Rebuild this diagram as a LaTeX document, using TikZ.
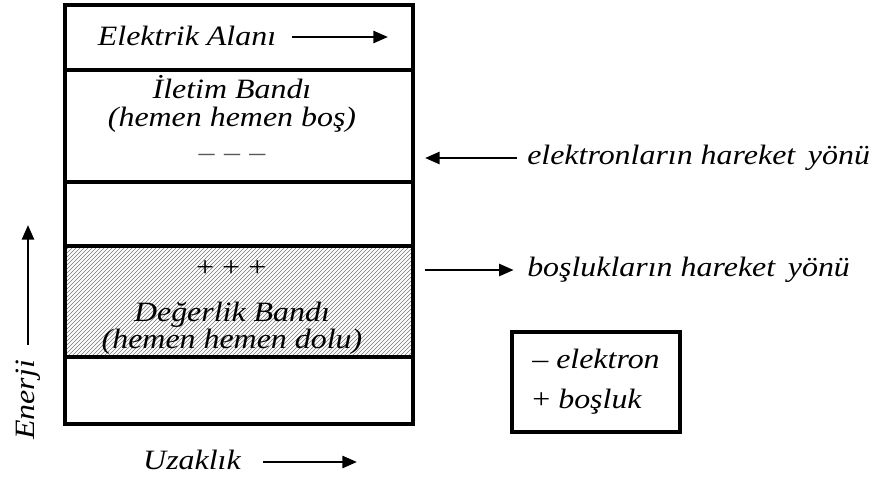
\documentclass[tikz,border=0pt]{standalone}
\usepackage{fontspec}
\setmainfont{Liberation Serif}[FakeStretch=1.14]
\usepackage{tikz}
\usetikzlibrary{arrows.meta,positioning,patterns}
\definecolor{hatchgray}{RGB}{120, 120, 120}
\tikzset{
  bandframe/.style={
    line width=2.3pt
  },
  bandlabel/.style={
    draw=none,
    align=center,
    inner sep=0pt,
    font=\itshape\fontsize{21}{20.5}\selectfont
  },
  sidelabel/.style={
    draw=none,
    anchor=west,
    inner sep=0pt,
    font=\itshape\fontsize{21}{22}\selectfont
  },
  dirarrow/.style={
    -{Triangle[length=11pt,width=9pt]},
    line width=2pt
  }
}

\begin{document}
\begin{tikzpicture}[x=0.75pt,y=-0.75pt]
\useasboundingbox (0,0) rectangle (877,476);
% energy bands
\fill[pattern=north east lines,pattern color=hatchgray] (65,246) rectangle (413,357);
\draw[bandframe] (65,5) rectangle (413,424);
\draw[bandframe] (65,70) -- (413,70);
\draw[bandframe] (65,182) -- (413,182);
\draw[bandframe] (65,246) -- (413,246);
\draw[bandframe] (65,357) -- (413,357);

\node[bandlabel] (field) at (187,36) {Elektrik Alanı};
\coordinate (fieldtip) at (388,37);
\draw[dirarrow] (292,37) coordinate (fieldtail) -- (fieldtip);

\node[bandlabel] (cband) at (232,104) {İletim Bandı\\(hemen hemen boş)};
\node[bandlabel,text=black!65] (electrons) at (232,158) {–\,\,–\,\,–};
\node[bandlabel] (holes) at (231,269) {+\,+\,+};
\node[bandlabel] (vband) at (232,328) {Değerlik Bandı\\(hemen hemen dolu)};

% directions of motion
\node[sidelabel] (edir) at (527,158) {elektronların hareket\, yönü};
\coordinate (eend) at (425,158);
\draw[dirarrow] (edir.west) ++(-10,0) -- (eend);
\node[sidelabel] (hdir) at (527,270) {boşlukların hareket\, yönü};
\coordinate (hstart) at (425,270);
\draw[dirarrow] (hstart) -- ([xshift=-10]hdir.west);

% legend
\node[draw,line width=2.3pt,minimum width=168*0.75pt,minimum height=100*0.75pt,
  align=left,inner sep=6pt,font=\itshape\fontsize{21}{30}\selectfont] (legend) at (596,382)
  {{\upshape –} elektron\\{\upshape +} boşluk};

% axes
\node[bandlabel,rotate=90] (energy) at (28,400) {Enerji};
\coordinate (energytip) at (28,225);
\draw[dirarrow] (28,345) coordinate (energytail) -- (energytip);
\node[bandlabel] (dist) at (192,460) {Uzaklık};
\coordinate (disttip) at (357,462);
\draw[dirarrow] (263,462) coordinate (disttail) -- (disttip);
\end{tikzpicture}
\end{document}
